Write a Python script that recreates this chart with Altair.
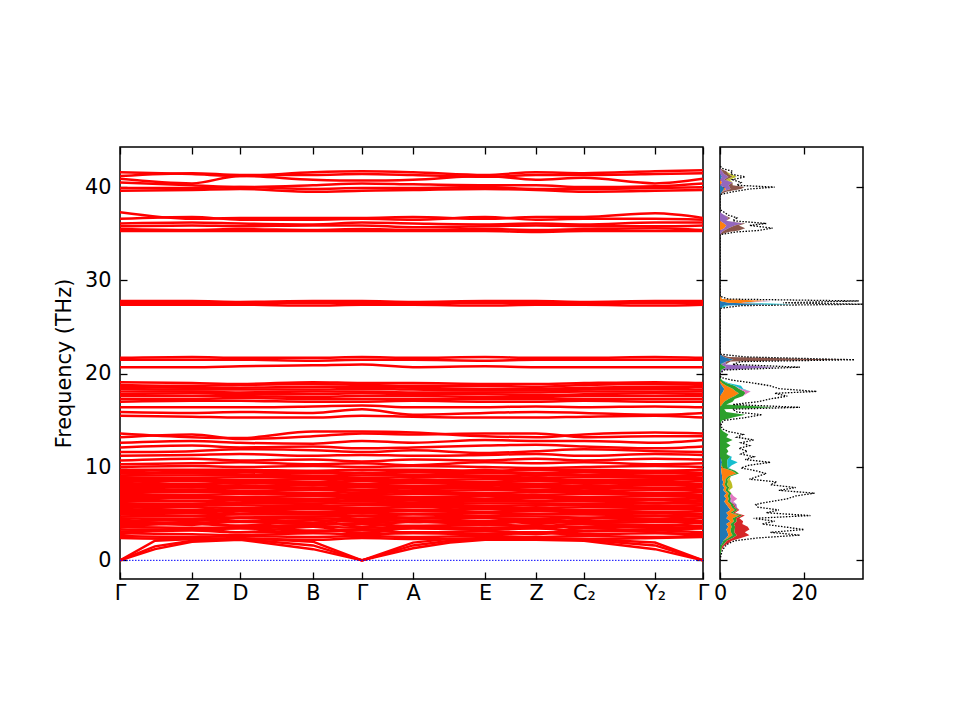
import altair as alt
import pandas as pd

# high-symmetry path (distance along path) and labels
kpos = [0.0, 0.72, 1.20, 1.93, 2.42, 2.93, 3.65, 4.16, 4.64, 5.35, 5.83]
klabels = ['Γ', 'Z', 'D', 'B', 'Γ', 'A', 'E', 'Z', 'C₂', 'Y₂', 'Γ']

# acoustic branches, sampled on their own k list
acoustic_k = [0.0, 0.35, 0.72, 1.20, 1.93, 2.42, 2.93, 3.30, 3.65, 4.16, 4.64, 5.35, 5.83]
acoustic = [
    [0, 1.2, 2.0, 2.2, 1.2, 0, 1.3, 1.9, 2.2, 2.2, 2.1, 1.2, 0],
    [0, 1.5, 2.1, 2.3, 1.6, 0, 1.6, 2.1, 2.3, 2.3, 2.2, 1.6, 0],
    [0, 2.1, 2.3, 2.4, 2.0, 0, 1.9, 2.3, 2.4, 2.4, 2.3, 1.9, 0],
]

# optical branches, values at the 11 high-symmetry points
bands_low = [
    [2.4, 2.3, 2.3, 2.2, 2.4, 2.3, 2.3, 2.3, 2.3, 2.4, 2.5],
    [2.6, 2.5, 2.6, 2.5, 2.6, 2.5, 2.6, 2.5, 2.6, 2.5, 2.7],
    [2.9, 2.8, 2.7, 2.9, 2.8, 2.9, 2.8, 2.9, 2.8, 2.9, 2.8],
    [3.1, 3.2, 3.0, 3.1, 3.2, 3.0, 3.1, 3.0, 3.1, 3.2, 3.0],
    [3.3, 3.3, 3.4, 3.2, 3.3, 3.4, 3.3, 3.4, 3.2, 3.3, 3.4],
    [3.6, 3.5, 3.5, 3.6, 3.5, 3.6, 3.5, 3.6, 3.6, 3.5, 3.6],
    [3.8, 3.9, 3.7, 3.8, 3.9, 3.7, 3.8, 3.7, 3.9, 3.8, 3.7],
    [4.0, 4.0, 4.1, 3.9, 4.0, 4.1, 4.0, 4.1, 4.0, 4.1, 4.0],
    [4.2, 4.3, 4.2, 4.3, 4.2, 4.3, 4.2, 4.3, 4.2, 4.3, 4.2],
    [4.5, 4.4, 4.5, 4.5, 4.4, 4.5, 4.5, 4.4, 4.5, 4.4, 4.5],
    [4.7, 4.7, 4.6, 4.7, 4.7, 4.6, 4.7, 4.7, 4.6, 4.7, 4.7],
    [4.9, 4.8, 4.9, 4.9, 4.8, 4.9, 4.8, 4.9, 4.9, 4.8, 4.9],
    [5.1, 5.1, 5.0, 5.1, 5.1, 5.0, 5.1, 5.0, 5.1, 5.1, 5.0],
    [5.3, 5.3, 5.3, 5.2, 5.3, 5.3, 5.2, 5.3, 5.3, 5.2, 5.3],
    [5.5, 5.4, 5.5, 5.5, 5.5, 5.4, 5.5, 5.5, 5.4, 5.5, 5.5],
    [5.7, 5.7, 5.6, 5.7, 5.6, 5.7, 5.7, 5.6, 5.7, 5.7, 5.6],
    [5.9, 5.9, 5.9, 5.8, 5.9, 5.9, 5.8, 5.9, 5.9, 5.8, 5.9],
    [6.1, 6.0, 6.1, 6.1, 6.1, 6.0, 6.1, 6.1, 6.0, 6.1, 6.1],
    [6.3, 6.3, 6.2, 6.3, 6.3, 6.2, 6.3, 6.3, 6.3, 6.2, 6.3],
    [6.5, 6.4, 6.5, 6.5, 6.4, 6.5, 6.5, 6.4, 6.5, 6.5, 6.4],
    [6.7, 6.7, 6.7, 6.6, 6.7, 6.7, 6.6, 6.7, 6.7, 6.6, 6.7],
    [6.9, 6.9, 6.8, 6.9, 6.9, 6.8, 6.9, 6.9, 6.8, 6.9, 6.9],
    [7.1, 7.0, 7.1, 7.1, 7.0, 7.1, 7.1, 7.0, 7.1, 7.1, 7.0],
    [7.3, 7.3, 7.3, 7.2, 7.3, 7.3, 7.2, 7.3, 7.3, 7.2, 7.3],
    [7.5, 7.5, 7.4, 7.5, 7.5, 7.4, 7.5, 7.5, 7.4, 7.5, 7.5],
    [7.7, 7.6, 7.7, 7.7, 7.6, 7.7, 7.7, 7.6, 7.7, 7.7, 7.6],
    [7.9, 7.9, 7.9, 7.8, 7.9, 7.9, 7.8, 7.9, 7.9, 7.8, 7.9],
    [8.1, 8.1, 8.0, 8.1, 8.1, 8.0, 8.1, 8.1, 8.0, 8.1, 8.1],
    [8.3, 8.2, 8.3, 8.3, 8.2, 8.3, 8.3, 8.2, 8.3, 8.3, 8.2],
    [8.5, 8.5, 8.5, 8.4, 8.5, 8.5, 8.4, 8.5, 8.5, 8.4, 8.5],
    [8.7, 8.7, 8.6, 8.7, 8.7, 8.6, 8.7, 8.7, 8.6, 8.7, 8.7],
    [8.9, 8.8, 8.9, 8.9, 8.8, 8.9, 8.9, 8.8, 8.9, 8.9, 8.8],
    [9.1, 9.1, 9.1, 9.0, 9.1, 9.1, 9.0, 9.1, 9.1, 9.0, 9.1],
    [9.3, 9.3, 9.2, 9.3, 9.3, 9.2, 9.3, 9.3, 9.2, 9.3, 9.3],
    [9.5, 9.4, 9.5, 9.5, 9.4, 9.5, 9.5, 9.4, 9.5, 9.5, 9.4],
    [9.7, 9.7, 9.7, 9.6, 9.7, 9.7, 9.6, 9.7, 9.7, 9.6, 9.7],
    # branches that wander across the dense block
    [2.8, 3.4, 3.0, 3.6, 2.9, 3.5, 3.2, 2.8, 3.5, 3.0, 2.7],
    [3.5, 4.1, 3.7, 4.3, 3.6, 4.2, 3.8, 4.4, 3.9, 3.6, 4.2],
    [4.4, 3.8, 4.6, 4.0, 4.8, 4.1, 4.6, 3.9, 4.4, 4.8, 4.1],
    [5.2, 5.8, 5.0, 5.6, 5.3, 5.9, 5.1, 5.7, 5.2, 5.6, 5.9],
    [6.2, 6.8, 6.4, 6.0, 6.6, 6.2, 6.9, 6.3, 6.7, 6.1, 6.5],
    [7.0, 7.6, 7.2, 7.8, 7.1, 7.5, 7.9, 7.3, 7.7, 7.0, 7.4],
    [8.0, 8.6, 8.2, 8.8, 8.1, 8.7, 8.3, 8.9, 8.2, 8.6, 8.0],
    [9.0, 9.6, 9.2, 8.8, 9.4, 9.0, 9.7, 9.1, 9.5, 8.9, 9.3],
]
bands_mid = [
    [10.0, 10.1, 10.0, 10.1, 10.0, 10.1, 10.0, 9.9, 10.0, 10.1, 10.0],
    [10.3, 10.4, 10.5, 10.3, 10.4, 10.2, 10.5, 10.4, 10.5, 10.3, 10.4],
    [10.7, 10.9, 10.7, 10.8, 10.6, 10.8, 10.7, 10.9, 10.7, 10.9, 10.8],
    [11.2, 11.3, 11.4, 11.2, 11.3, 11.2, 11.3, 11.4, 11.2, 11.4, 11.3],
    [11.6, 11.7, 11.9, 11.8, 11.6, 11.8, 11.5, 11.7, 11.9, 11.7, 11.6],
    [12.1, 12.3, 12.1, 12.2, 12.0, 12.1, 12.3, 12.4, 12.2, 12.0, 12.2],
    [12.6, 12.8, 12.6, 12.5, 12.8, 12.6, 12.9, 12.8, 12.8, 12.6, 12.9],
    [13.2, 13.5, 13.0, 13.3, 13.6, 13.5, 13.6, 13.6, 13.2, 13.3, 13.3],
    [13.6, 13.2, 13.1, 13.8, 13.8, 13.7, 13.3, 13.2, 13.5, 13.7, 13.6],
    [15.5, 15.4, 15.3, 15.3, 15.5, 15.4, 15.3, 15.3, 15.4, 15.5, 15.3],
    [15.9, 15.8, 15.9, 15.8, 16.2, 15.6, 15.8, 15.9, 15.8, 15.6, 15.8],
    [16.4, 16.4, 16.4, 16.5, 16.6, 16.4, 16.4, 16.5, 16.4, 16.5, 16.4],
    [17.0, 17.1, 17.1, 17.0, 17.0, 17.1, 17.0, 17.0, 17.1, 17.0, 17.0],
    [17.3, 17.3, 17.4, 17.3, 17.3, 17.3, 17.3, 17.3, 17.3, 17.3, 17.3],
    [17.6, 17.6, 17.6, 17.5, 17.6, 17.6, 17.5, 17.5, 17.6, 17.6, 17.6],
    [17.8, 17.9, 17.8, 17.8, 17.9, 17.8, 17.8, 17.7, 17.8, 17.9, 17.8],
    [18.1, 18.1, 18.0, 18.1, 18.1, 18.0, 18.0, 18.0, 18.1, 18.1, 18.1],
    [18.4, 18.3, 18.3, 18.3, 18.4, 18.3, 18.2, 18.2, 18.3, 18.4, 18.3],
    [18.6, 18.5, 18.5, 18.6, 18.6, 18.5, 18.4, 18.4, 18.5, 18.6, 18.6],
    [18.8, 18.7, 18.8, 18.9, 18.8, 18.7, 18.7, 18.6, 18.8, 18.9, 18.8],
    [19.1, 19.0, 18.9, 19.1, 19.0, 19.0, 18.9, 18.9, 19.0, 19.1, 19.0],
    [20.7, 20.7, 20.8, 20.9, 21.0, 20.7, 20.8, 20.7, 20.7, 20.7, 20.7],
    [21.5, 21.5, 21.5, 21.4, 21.5, 21.5, 21.4, 21.5, 21.5, 21.5, 21.5],
    [21.7, 21.8, 21.7, 21.7, 21.8, 21.7, 21.8, 21.7, 21.7, 21.8, 21.7],
]
bands_high = [
    [27.4, 27.4, 27.4, 27.3, 27.4, 27.4, 27.3, 27.4, 27.4, 27.3, 27.4],
    [27.6, 27.6, 27.6, 27.6, 27.6, 27.6, 27.6, 27.6, 27.6, 27.6, 27.6],
    [27.8, 27.8, 27.7, 27.8, 27.8, 27.7, 27.8, 27.8, 27.7, 27.8, 27.8],
    [35.3, 35.3, 35.3, 35.3, 35.3, 35.3, 35.3, 35.2, 35.3, 35.3, 35.3],
    [35.5, 35.4, 35.5, 35.4, 35.5, 35.4, 35.5, 35.4, 35.5, 35.6, 35.4],
    [35.8, 35.9, 35.8, 35.9, 35.9, 35.7, 35.8, 35.9, 35.8, 35.8, 35.9],
    [36.1, 36.2, 36.1, 36.0, 36.2, 36.1, 36.0, 36.1, 36.0, 36.2, 36.2],
    [36.6, 36.8, 36.5, 36.5, 36.6, 36.5, 36.8, 36.5, 36.6, 36.6, 36.5],
    [37.3, 36.6, 36.7, 36.7, 36.7, 36.8, 36.6, 36.8, 36.8, 37.2, 36.7],
    [39.6, 39.7, 39.8, 39.5, 39.6, 39.7, 39.8, 39.7, 39.5, 39.6, 39.7],
    [39.9, 39.9, 40.0, 39.8, 39.9, 39.9, 40.0, 39.8, 39.8, 39.9, 40.0],
    [40.5, 40.2, 40.0, 40.2, 40.4, 40.3, 40.2, 40.2, 40.0, 40.1, 40.4],
    [40.9, 40.4, 41.2, 40.8, 40.7, 40.8, 41.2, 40.8, 41.0, 40.4, 40.9],
    [41.2, 41.5, 41.3, 41.3, 41.4, 41.3, 41.1, 41.3, 41.3, 41.4, 41.5],
    [41.6, 41.4, 41.2, 41.6, 41.7, 41.6, 41.3, 41.6, 41.5, 41.7, 41.8],
]

# phonon DOS: frequency grid and total DOS
dos_freq = [
    0.0, 0.5, 1.0, 1.5, 1.8, 2.1, 2.4, 2.7, 3.0, 3.3,
    3.6, 3.9, 4.2, 4.5, 4.8, 5.1, 5.4, 5.7, 6.0, 6.3,
    6.6, 6.9, 7.2, 7.5, 7.8, 8.1, 8.4, 8.7, 9.0, 9.3,
    9.6, 9.9, 10.2, 10.5, 10.8, 11.1, 11.4, 11.7, 12.0, 12.3,
    12.6, 12.9, 13.2, 13.5, 13.8, 14.1, 14.4, 14.7, 15.0, 15.3,
    15.6, 15.9, 16.2, 16.4, 16.7, 17.0, 17.3, 17.6, 17.9, 18.1,
    18.4, 18.7, 19.0, 19.3, 19.6, 20.0, 20.4, 20.7, 21.0, 21.3,
    21.5, 21.8, 22.1, 27.0, 27.3, 27.45, 27.6, 27.8, 28.0, 28.3,
    34.9, 35.2, 35.35, 35.6, 35.9, 36.1, 36.4, 36.7, 37.0, 37.3,
    37.6, 39.2, 39.5, 39.8, 40.0, 40.2, 40.5, 40.8, 41.1, 41.4,
    41.7, 42.0, 42.3,
]
dos_total = [
    0, 0.2, 0.5, 1.2, 2.0, 3.5, 9, 19, 12, 20,
    15, 10, 13, 8, 21.5, 11, 14, 9, 8.5, 12,
    16, 18, 22.5, 14, 18, 12, 13.5, 7, 9, 11,
    8.5, 5, 7, 12, 6, 8, 5, 6.5, 4.5, 7,
    5, 8, 4, 5.5, 2, 0.5, 0.3, 0.3, 1, 6,
    10, 4, 3, 19, 3, 9, 12, 16, 13, 23,
    14, 12, 8, 3, 0.2, 0, 1, 19, 3, 5,
    32, 6, 0, 0, 5, 34, 15, 33, 2, 0,
    0, 4, 9, 12.5, 7, 11, 3, 4, 2, 1,
    0, 0, 3, 7, 13, 4, 5, 3, 6, 2.5,
    3, 0.5, 0,
]

# projected DOS (stacked), non-zero grid entries only
pdos = {
    'blue': {1.8: 0.5, 2.1: 0.8, 2.4: 1.5, 2.7: 2.0, 3.0: 1.8, 3.3: 1.5, 3.6: 2.0, 3.9: 1.5,
             4.2: 2.5, 4.5: 1.5, 4.8: 2.0, 5.1: 1.5, 5.4: 2.5, 5.7: 2.0, 6.0: 1.5, 6.3: 1.0,
             6.6: 1.5, 6.9: 1.0, 7.2: 1.5, 7.5: 0.8, 7.8: 1.0, 8.1: 0.6, 8.4: 0.8, 8.7: 0.5,
             9.0: 0.5, 9.3: 0.4, 9.6: 0.3, 9.9: 0.3, 10.2: 0.3, 10.5: 0.5, 10.8: 0.3,
             17.9: 0.5, 18.1: 0.8, 18.4: 1.0, 18.7: 0.5, 21.3: 1.5, 21.5: 3.2, 21.8: 1.0,
             27.3: 1.0, 27.45: 12.0, 27.6: 2.0, 39.5: 0.5, 39.8: 1.0, 40.0: 0.8, 41.1: 0.5},
    'orange': {2.4: 0.5, 2.7: 1.0, 3.0: 0.8, 3.3: 1.0, 3.6: 0.8, 3.9: 1.0, 4.2: 0.8, 4.5: 1.5,
               4.8: 2.5, 5.1: 1.0, 5.4: 1.0, 5.7: 0.8, 6.0: 1.0, 6.3: 0.8, 6.6: 0.6, 6.9: 0.8,
               7.2: 0.6, 7.5: 0.5, 7.8: 0.6, 8.1: 0.5, 8.4: 0.5, 8.7: 0.8, 9.0: 1.5, 9.3: 3.5,
               9.6: 2.5, 9.9: 0.5, 16.7: 0.5, 17.0: 1.0, 17.3: 2.0, 17.6: 3.5, 17.9: 4.0,
               18.1: 3.0, 18.4: 2.0, 18.7: 1.0, 19.0: 0.5, 27.6: 3.0, 27.8: 11.0, 28.0: 0.5,
               35.6: 1.0, 35.9: 1.5, 36.1: 1.0, 39.8: 0.5, 40.5: 0.5},
    'green': {1.0: 0.3, 1.5: 0.5, 1.8: 0.6, 2.1: 0.8, 2.4: 1.0, 2.7: 1.0, 3.0: 0.8, 3.3: 1.0,
              3.6: 0.8, 3.9: 0.8, 4.2: 0.7, 4.5: 0.8, 4.8: 0.8, 5.1: 0.6, 5.4: 0.7, 5.7: 0.6,
              6.0: 0.6, 6.3: 0.6, 6.6: 0.5, 6.9: 0.6, 7.2: 0.6, 7.5: 0.6, 7.8: 0.6, 8.1: 0.6,
              8.4: 0.6, 8.7: 0.5, 9.0: 0.6, 9.3: 0.6, 9.6: 0.8, 9.9: 1.0, 10.2: 1.5, 10.5: 1.2,
              10.8: 1.5, 11.1: 2.5, 11.4: 1.5, 11.7: 2.0, 12.0: 1.5, 12.3: 2.5, 12.6: 1.5,
              12.9: 3.0, 13.2: 1.5, 13.5: 2.0, 13.8: 0.8, 14.1: 0.2, 15.0: 0.5, 15.3: 3.0,
              15.6: 6.0, 15.9: 1.5, 16.2: 1.0, 16.4: 13.0, 16.7: 1.0, 17.0: 2.0, 17.3: 1.5,
              17.6: 2.0, 17.9: 1.5, 18.1: 2.0, 18.4: 1.5, 18.7: 2.0, 19.0: 1.0, 19.3: 0.5,
              20.4: 0.3, 20.7: 1.5, 21.0: 0.3},
    'red': {1.5: 0.4, 1.8: 0.8, 2.1: 1.2, 2.4: 2.0, 2.7: 3.0, 3.0: 2.5, 3.3: 3.5, 3.6: 3.0,
            3.9: 2.0, 4.2: 1.5, 4.5: 0.8, 4.8: 0.6, 5.1: 0.5, 5.4: 0.4, 5.7: 0.3, 6.0: 0.3},
    'purple': {5.7: 0.3, 6.0: 0.5, 6.3: 0.3, 20.4: 0.5, 20.7: 12.0, 21.0: 1.0, 35.2: 0.5,
               35.35: 1.0, 35.6: 1.0, 35.9: 2.0, 36.1: 4.5, 36.4: 1.5, 36.7: 2.0, 37.0: 1.0,
               39.8: 1.0, 40.0: 1.5, 40.2: 2.0, 40.5: 2.5, 40.8: 1.0, 41.1: 1.5, 41.4: 1.0,
               41.7: 0.5},
    'brown': {21.3: 1.0, 21.5: 27.0, 21.8: 1.0, 35.2: 1.5, 35.35: 3.5, 35.6: 4.0, 35.9: 1.0,
              36.1: 0.5, 36.7: 0.5, 39.5: 1.0, 39.8: 2.5, 40.0: 3.5, 40.2: 1.0, 40.8: 0.5,
              41.1: 1.0, 41.4: 1.0, 41.7: 1.0},
    'pink': {6.3: 0.5, 6.6: 1.5, 6.9: 0.8, 17.9: 0.5, 18.1: 1.5, 18.4: 0.5, 27.6: 0.5, 27.8: 1.2},
    'olive': {7.5: 0.3, 7.8: 0.8, 8.1: 1.2, 8.4: 0.8, 8.7: 0.5, 40.8: 0.8, 41.1: 1.0, 41.4: 0.5},
    'cyan': {9.9: 0.3, 10.2: 1.0, 10.5: 2.5, 10.8: 0.8, 11.1: 0.3, 18.4: 0.5, 18.7: 1.5,
             19.0: 0.5, 27.3: 1.0, 27.45: 5.5, 27.6: 1.0},
}
pdos_colors = ['#1f77b4', '#ff7f0e', '#2ca02c', '#d62728', '#9467bd',
               '#8c564b', '#e377c2', '#bcbd22', '#17becf']

# ---- tables ----
rows = []
for i, b in enumerate(bands_low + bands_mid + bands_high):
    for k, f in zip(kpos, b):
        rows.append({'band': i, 'k': k, 'f': f})
df_opt = pd.DataFrame(rows)

rows = []
for i, b in enumerate(acoustic):
    for k, f in zip(acoustic_k, b):
        rows.append({'band': i, 'k': k, 'f': f})
df_ac = pd.DataFrame(rows)

df_zero = pd.DataFrame({'k0': [kpos[0]], 'k1': [kpos[-1]], 'f': [0.0]})

df_tot = pd.DataFrame({'f': dos_freq, 'v': dos_total})

rows = []
for si, (name, vals) in enumerate(pdos.items()):
    for f in dos_freq:
        rows.append({'s': name, 'si': si, 'f': f, 'v': vals.get(f, 0.0)})
df_pdos = pd.DataFrame(rows)

# tick label expression for the k-path
expr = "''"
for pos, lab in reversed(list(zip(kpos, klabels))):
    expr = f"abs(datum.value - {pos}) < 0.01 ? '{lab}' : ({expr})"

TICK = 7
FONT = 20.8
fscale = alt.Scale(domain=[-2, 44.3], nice=False, zero=False)
kscale = alt.Scale(domain=[kpos[0], kpos[-1]], nice=False, zero=False)
fticks = [0, 10, 20, 30, 40]

# ---- band structure panel ----
y_left = alt.Y('f:Q', scale=fscale,
               axis=alt.Axis(values=fticks, orient='left', offset=-TICK, labelPadding=9,
                             title='Frequency (THz)', titlePadding=10))
x_bottom = alt.X('k:Q', scale=kscale,
                 axis=alt.Axis(values=kpos, orient='bottom', offset=-TICK, labelExpr=expr,
                               labelFlush=False, labelOverlap=False, labelPadding=4, title=None))

optical = alt.Chart(df_opt).mark_line(color='#ff0000', strokeWidth=2.5, interpolate='monotone', clip=True).encode(
    x=x_bottom, y=y_left, detail='band:N'
)
acoustic_lines = alt.Chart(df_ac).mark_line(color='#ff0000', strokeWidth=2.5, clip=True).encode(
    x=alt.X('k:Q', scale=kscale, axis=None),
    y=alt.Y('f:Q', scale=fscale, axis=None),
    detail='band:N'
)
zero_line = alt.Chart(df_zero).mark_rule(color='#0000ff', strokeWidth=1, strokeDash=[1.5, 1.5]).encode(
    x=alt.X('k0:Q', scale=kscale,
            axis=alt.Axis(values=kpos, orient='top', offset=-TICK, labels=False, title=None)),
    x2='k1:Q',
    y=alt.Y('f:Q', scale=fscale,
            axis=alt.Axis(values=fticks, orient='right', offset=-TICK, labels=False, title=None)),
)

bands_chart = alt.layer(optical, acoustic_lines, zero_line).resolve_axis(
    x='independent', y='independent'
).properties(width=583, height=432)

# ---- DOS panel ----
dscale = alt.Scale(domain=[0, 34.0], nice=False, zero=False)

areas = alt.Chart(df_pdos).mark_area(orient='horizontal', opacity=1, clip=True).encode(
    x=alt.X('v:Q', stack='zero', scale=dscale,
            axis=alt.Axis(values=[0, 20], orient='bottom', offset=-TICK, labelFlush=False,
                          labelOverlap=False, labelPadding=4, title=None)),
    y=alt.Y('f:Q', scale=fscale,
            axis=alt.Axis(values=fticks, orient='left', offset=-TICK, labels=False, title=None)),
    color=alt.Color('s:N', scale=alt.Scale(domain=list(pdos.keys()), range=pdos_colors), legend=None),
    order=alt.Order('si:Q'),
)
total = alt.Chart(df_tot).mark_line(color='black', strokeWidth=1.3, strokeDash=[1.5, 1.5], clip=True).encode(
    x=alt.X('v:Q', scale=dscale,
            axis=alt.Axis(values=[0, 20], orient='top', offset=-TICK, labels=False, title=None)),
    y=alt.Y('f:Q', scale=fscale,
            axis=alt.Axis(values=fticks, orient='right', offset=-TICK, labels=False, title=None)),
    order='f:Q',
)

dos_chart = alt.layer(areas, total).resolve_axis(
    x='independent', y='independent'
).properties(width=143, height=432)

chart = alt.hconcat(bands_chart, dos_chart, spacing=17, bounds='flush').properties(
    padding={'left': 44, 'top': 137, 'right': 5, 'bottom': 5}
).configure_view(
    stroke='black', strokeWidth=1.5
).configure_axis(
    domain=False, grid=False, tickColor='black', tickWidth=1.3, tickSize=TICK,
    labelFont='DejaVu Sans', labelFontSize=FONT, labelColor='black',
    titleFont='DejaVu Sans', titleFontSize=FONT, titleFontWeight='normal', titleColor='black'
)

chart.save('out.html', embed_options={'renderer': 'svg', 'actions': False})
